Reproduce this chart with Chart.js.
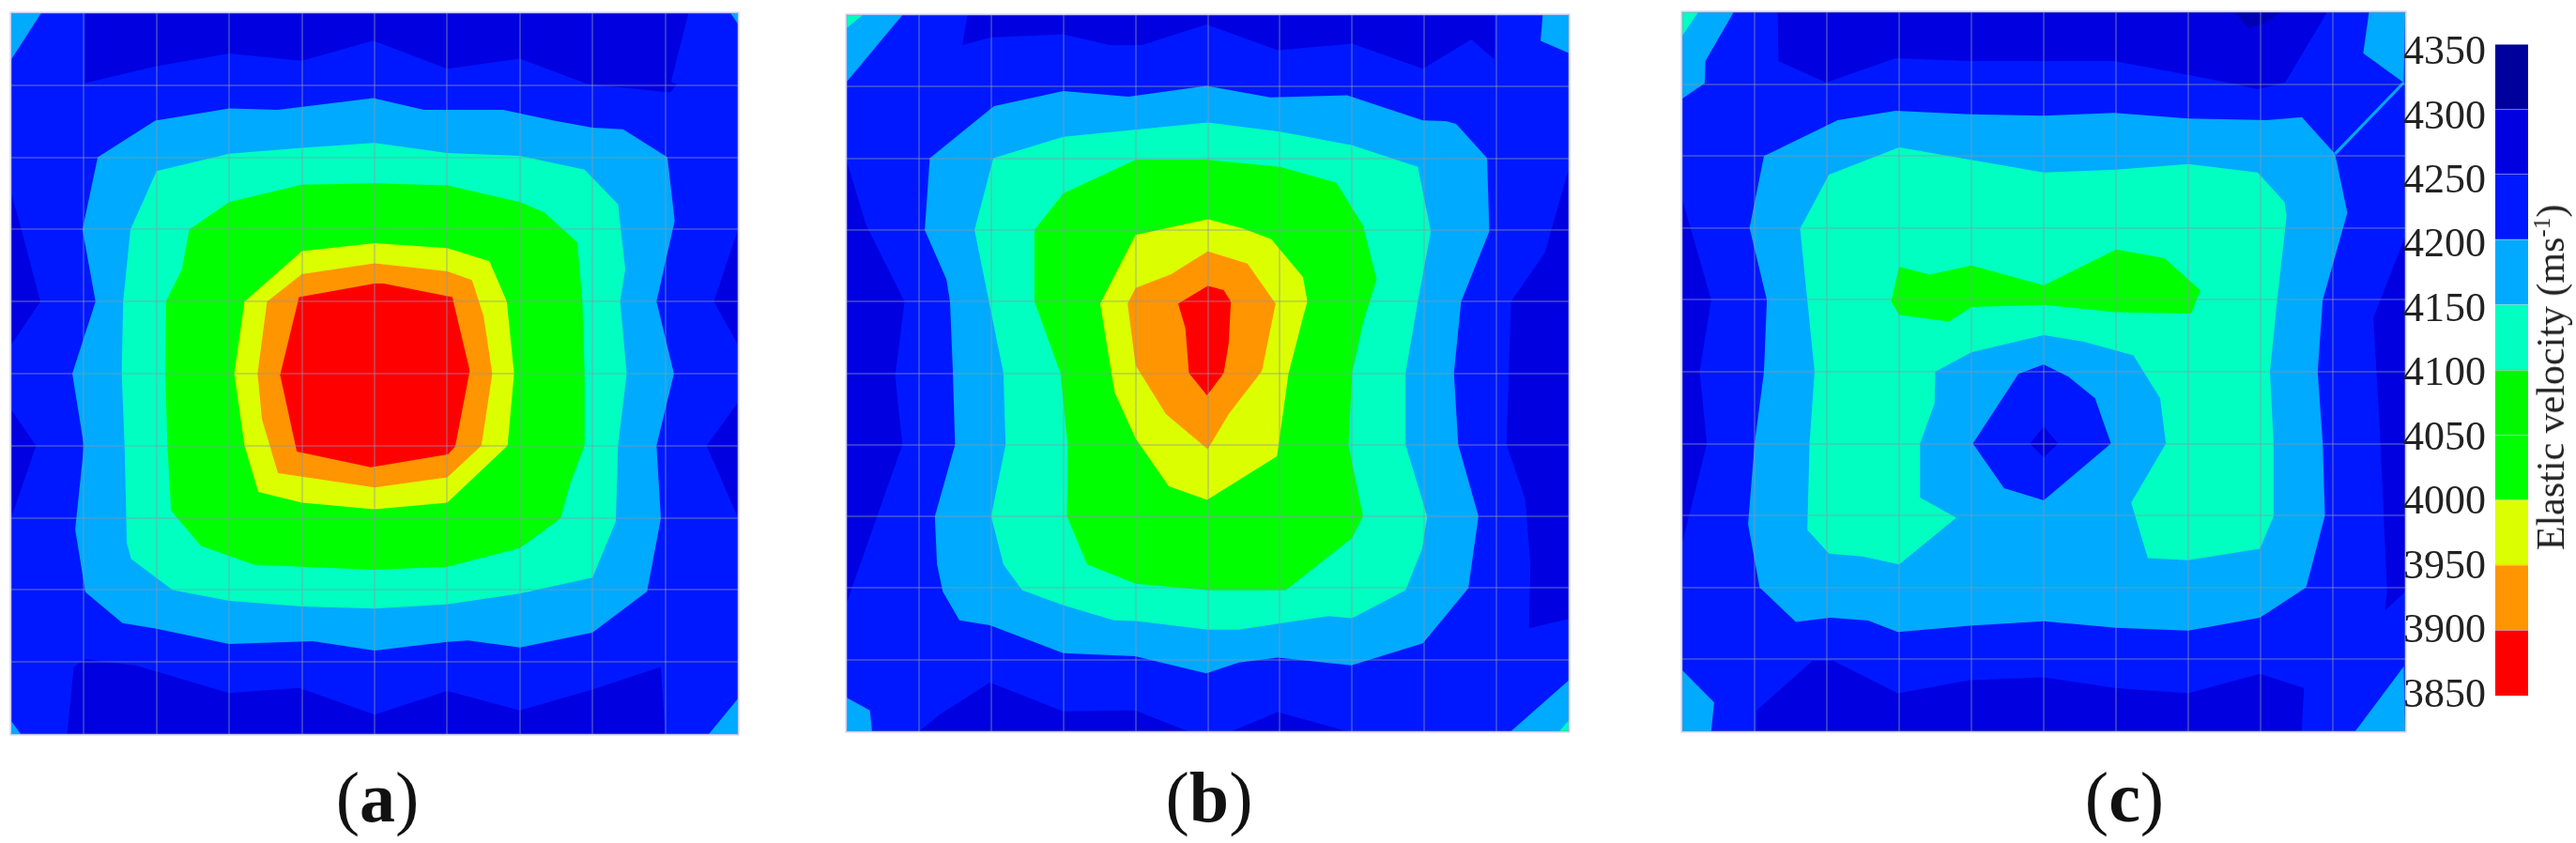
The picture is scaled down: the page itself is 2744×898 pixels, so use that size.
<!DOCTYPE html>
<html>
<head>
<meta charset="utf-8">
<title>Elastic velocity maps</title>
<script src="https://cdn.jsdelivr.net/npm/chart.js@4/dist/chart.umd.min.js"></script>
<style>
    body { margin: 0; background: #fff; width: 2744px; height: 898px; overflow: hidden; position: relative; font-family: "Liberation Serif", serif; color: #111; }
    canvas { position: absolute; filter: blur(0.7px); }
    .map { box-shadow: 0 0 0 1.5px rgba(190, 190, 240, 0.8); }
    .cap { position: absolute; top: 801px; font-size: 76px; line-height: 96px; transform: translateX(-50%); }
    #barTitle { position: absolute; left: 2717px; top: 402px; font-size: 42px; color: #222; white-space: nowrap; transform: translate(-50%, -50%) rotate(-90deg); }
    #barTitle sup { font-size: 25px; line-height: 0; }
</style>
</head>
<body>
<canvas class="map" id="panelA" width="774" height="768" style="left:12px;top:14px"></canvas>
<canvas class="map" id="panelB" width="769" height="763" style="left:902px;top:16px"></canvas>
<canvas class="map" id="panelC" width="770" height="766" style="left:1792px;top:13px"></canvas>
<canvas id="colorBar" width="135" height="734" style="left:2560px;top:27px"></canvas>
<div class="cap" style="left:402px">(<b>a</b>)</div>
<div class="cap" style="left:1288px">(<b>b</b>)</div>
<div class="cap" style="left:2263px">(<b>c</b>)</div>
<div id="barTitle">Elastic velocity (ms<sup>-1</sup>)</div>

<script>
// Colour bar: band edges, labels and one colour per band (low to high).
const bandEdges = [3850, 3900, 3950, 4000, 4050, 4100, 4150, 4200, 4250, 4300, 4350];
const tickValues = [3850, 3900, 3950, 4000, 4050, 4100, 4150, 4200, 4250, 4300, 4350];
const bandColors = ['#ff0000', '#ff9500', '#dcff00', '#00ff00', '#00f800', '#00ffc0', '#00aaff', '#0018ff', '#0000e0', '#00009c'];

const RED = bandColors[0], ORANGE = bandColors[1], YELLOW = bandColors[2], GREEN = bandColors[3];
const AQUA = bandColors[5], SKY = bandColors[6], BLUE = bandColors[7], DARK = bandColors[8], NAVY = '#0000b4';

// Contours in grid cells (0-10 across, 0-10 down).
const wholeGrid = [[0, 0], [10, 0], [10, 10], [0, 10]];

// Panel (a)
const aTopDark = [[1.02, 0], [1.02, 0.97], [1.98, 0.74], [3, 0.56], [4, 0.66], [4.98, 0.38], [6, 0.77], [7, 0.63], [7.92, 0.98], [9.07, 1.1], [9.16, 0.99], [9.08, 0.95], [9.32, 0]];
const aBottomDark = [[0.77, 10], [0.86, 9.07], [1.02, 8.96], [1.72, 9.05], [3, 9.43], [3.96, 9.36], [5, 9.73], [6, 9.4], [7, 9.67], [8, 9.38], [8.94, 9.07], [9, 10]];
const aLeftDark1 = [[0, 2.5], [0.14, 3], [0.4, 4], [0, 4.6]];
const aLeftDark2 = [[0, 5.5], [0.34, 6], [0, 7]];
const aRightDark1 = [[10, 3], [9.67, 4], [10, 4.6]];
const aRightDark2 = [[10, 5.4], [9.57, 6], [10, 7]];
const aSkyCorners = [
    [[0, 0], [0.41, 0], [0, 0.64]],
    [[0, 9.82], [0.13, 10], [0, 10]],
    [[9.6, 10], [10, 9.51], [10, 10]],
    [[9.9, 0], [10, 0.15], [10, 0]]
];
const aSky = [[4.98, 1.18], [3.67, 1.34], [3, 1.32], [1.98, 1.49], [1.19, 2], [0.98, 3], [1.16, 4], [0.84, 5], [1, 6], [0.88, 7.16], [1.02, 8.03], [1.53, 8.46], [2, 8.54], [3, 8.75], [4.15, 8.71], [5, 8.84], [6, 8.72], [6.29, 8.7], [7, 8.8], [8, 8.59], [8.75, 8.02], [8.94, 7.01], [8.88, 6], [9.12, 5], [8.88, 4], [9.13, 2.88], [9.03, 2], [8.42, 1.61], [8, 1.59], [7.47, 1.49], [6.77, 1.34], [5.68, 1.34]];
const aAqua = [[5, 1.8], [4, 1.87], [3, 1.95], [2, 2.19], [1.64, 3], [1.54, 4], [1.52, 5], [1.56, 6], [1.59, 7.35], [1.65, 7.57], [2.22, 8], [3, 8.15], [4, 8.23], [5, 8.26], [6, 8.2], [7, 8.05], [8, 7.83], [8.32, 7.05], [8.35, 6], [8.47, 5], [8.38, 4], [8.45, 3.55], [8.35, 2.65], [7.89, 2.17], [7, 1.98], [6, 1.94]];
const aGreen = [[5, 2.36], [4, 2.38], [3, 2.62], [2.45, 3], [2.35, 3.55], [2.13, 4], [2.12, 5], [2.15, 6], [2.2, 6.9], [2.61, 7.39], [3.34, 7.65], [5, 7.72], [6, 7.68], [7, 7.42], [7.56, 7.01], [7.69, 6.53], [7.89, 6], [7.89, 5], [7.86, 4], [7.79, 3.18], [7.33, 2.76], [7, 2.62], [6, 2.39]];
const aYellow = [[5, 3.19], [4, 3.3], [3.21, 4], [3.07, 5], [3.21, 6], [3.4, 6.64], [4, 6.79], [5, 6.88], [6, 6.79], [6.83, 6], [6.92, 5], [6.82, 4], [6.58, 3.44], [6, 3.26]];
const aOrange = [[5, 3.47], [4, 3.62], [3.52, 4], [3.39, 5], [3.45, 5.63], [3.67, 6.38], [5, 6.58], [6, 6.44], [6.47, 6], [6.62, 5], [6.5, 4.2], [6.34, 3.7], [6, 3.58]];
const aRed = [[5.12, 3.75], [5, 3.75], [3.96, 3.94], [3.7, 5.02], [3.93, 6.08], [4.95, 6.3], [6.01, 6.12], [6.11, 6.01], [6.31, 4.96], [6.07, 3.94]];

// Panel (b)
const bTopDark = [[1.67, 0], [1.6, 0.42], [2, 0.31], [3, 0.27], [3.64, 0.42], [4.09, 0.42], [4.98, 0.13], [5.97, 0.49], [7, 0.4], [7.98, 0.75], [8.65, 0.34], [8.97, 0.62], [8.97, 0]];
const bBottomDark1 = [[1, 10], [1.28, 9.77], [1.98, 9.32], [3, 9.72], [3.99, 9.71], [4.73, 10]];
const bBottomDark2 = [[5.33, 10], [5.97, 9.73], [6.93, 10]];
const bLeftDark = [[0, 2.04], [0.27, 2.94], [0.8, 4], [0.67, 5.05], [0.77, 6], [0.5, 6.77], [0, 8.2]];
const bRightDark = [[10, 2.15], [9.67, 3.32], [9.2, 4], [9.17, 5], [9.14, 6], [9.4, 6.77], [9.47, 7.67], [9.45, 8.56], [10, 8.43]];
const bSkyCorners = [
    [[0, 0], [0.77, 0], [0, 0.93]],
    [[9.64, 0], [10, 0], [10, 0.53], [9.61, 0.36]],
    [[0, 9.53], [0.32, 9.71], [0.35, 10], [0, 10]],
    [[9.2, 10], [10, 9.29], [10, 10]]
];
const bAquaCorners = [
    [[0, 0], [0.22, 0], [0, 0.18]],
    [[9.87, 10], [10, 9.85], [10, 10]]
];
const bSky = [[4.98, 0.99], [3.9, 1.14], [3, 1.06], [2.04, 1.27], [1.15, 2], [1.08, 3], [1.38, 3.69], [1.43, 4], [1.47, 5], [1.5, 6], [1.22, 7], [1.25, 7.67], [1.33, 8.05], [1.56, 8.45], [1.98, 8.52], [3, 8.91], [3.99, 8.95], [4.98, 9.19], [5.43, 9.04], [5.97, 8.97], [6.99, 9.08], [7.98, 8.77], [8.61, 8], [8.75, 7], [8.47, 6], [8.41, 5], [8.51, 4], [8.9, 3.02], [8.87, 2], [8.44, 1.52], [8.3, 1.48], [7.98, 1.47], [6.93, 1.12], [5.87, 1.15]];
const bAqua = [[5, 1.5], [3, 1.7], [2.03, 2], [1.77, 3], [1.97, 4], [2.17, 5], [2.2, 6], [2, 7], [2.17, 7.67], [2.43, 8.03], [3, 8.24], [3.7, 8.45], [4, 8.46], [5, 8.58], [5.43, 8.58], [6.67, 8.39], [7, 8.42], [7.74, 8.03], [7.97, 7.45], [8.04, 7], [7.74, 6], [7.74, 5], [7.91, 4], [8.09, 3.02], [7.91, 2.12], [7, 1.82], [6, 1.63]];
const bGreen = [[5, 2.02], [4, 2.02], [3, 2.49], [2.6, 3], [2.6, 4], [2.96, 5], [3.06, 6], [3.05, 7], [3.33, 7.67], [4, 7.94], [5, 8.03], [6.08, 8.03], [7, 7.3], [7.15, 7], [6.95, 6], [7, 5], [7.15, 4.3], [7.34, 3.69], [7.15, 2.94], [6.78, 2.34], [6, 2.12]];
const bYellow = [[5, 2.85], [4, 3.07], [3.51, 4.03], [3.71, 5.27], [4, 5.91], [4.46, 6.58], [4.99, 6.77], [5.96, 6.16], [6.12, 5], [6.32, 4.22], [6.38, 4], [6.32, 3.66], [5.88, 3.13], [5.48, 2.98]];
const bOrange = [[5, 3.3], [4.49, 3.62], [4, 3.81], [3.89, 4.03], [4, 4.89], [4.42, 5.57], [5, 6.06], [5.29, 5.57], [5.75, 4.97], [5.94, 4.03], [5.55, 3.47]];
const bRed = [[5, 3.78], [4.59, 4.03], [4.69, 4.37], [4.74, 5], [4.99, 5.31], [5.22, 5], [5.29, 4.59], [5.32, 4], [5.22, 3.84]];

// Panel (c)
const cTopDark = [[1.32, 0], [1.33, 0.68], [1.99, 0.98], [2.95, 0.64], [3.98, 0.68], [5.97, 0.68], [7, 0.87], [7.64, 1], [7.96, 1.07], [8.34, 0.98], [8.92, 0]];
const cTopSmudge = [[7.64, 0], [7.83, 0.22], [8.02, 0.17], [8.28, 0]];
const cBottomDark = [[1.03, 10], [1.03, 9.71], [1.8, 9.02], [2.09, 9.02], [2.98, 9.47], [3.98, 9.29], [5, 9.25], [6, 9.4], [7, 9.47], [7.99, 9.2], [8.6, 9.4], [8.57, 10]];
const cLeftDark = [[0, 2.6], [0.4, 4], [0.24, 5], [0.34, 6], [0, 7.38]];
const cRightDark = [[10, 3.12], [9.56, 4.25], [9.65, 5.81], [9.75, 8.06], [9.72, 8.32], [10, 8.06]];
const cSkyCorners = [
    [[0, 0], [0.71, 0], [0.32, 0.68], [0.31, 0.99], [0, 1.2]],
    [[9.5, 0], [9.42, 0.57], [9.98, 0.98], [10, 0]],
    [[0, 9.15], [0.44, 9.6], [0.4, 10], [0, 10]],
    [[9.31, 10], [9.98, 9.1], [10, 10]]
];
const cAquaCorner = [[0, 0], [0.22, 0], [0, 0.33]];
const cSky = [[5, 1.44], [3.98, 1.42], [2.95, 1.37], [2.15, 1.5], [1.13, 2], [0.93, 3], [1.17, 4], [1.13, 5], [1, 6], [0.91, 7.12], [1.07, 8], [1.57, 8.48], [2.05, 8.42], [2.57, 8.46], [2.98, 8.62], [3.98, 8.53], [5, 8.47], [6, 8.56], [7, 8.6], [7.99, 8.42], [8.63, 8], [8.89, 7], [8.86, 6], [8.79, 5], [8.86, 4], [9.2, 2.79], [9.03, 1.97], [8.57, 1.46], [8.09, 1.5], [7, 1.48], [5.97, 1.4]];
const cSkyStreak = [[9.03, 1.97], [9.98, 0.98]];
const cAqua = [[5, 2.23], [3, 1.88], [2.03, 2.26], [1.63, 3.01], [1.83, 5], [1.76, 6], [1.73, 7.2], [2.03, 7.53], [2.49, 7.57], [3, 7.68], [3.79, 7.03], [3.29, 6.75], [3.29, 6], [3.49, 5.44], [3.5, 5], [4, 4.73], [5, 4.49], [5.54, 4.58], [6.24, 4.77], [6.61, 5.37], [6.69, 6], [6.21, 6.82], [6.44, 7.59], [7, 7.62], [7.99, 7.46], [8.18, 7.01], [8.18, 6], [8.13, 5], [8.23, 4], [8.36, 2.83], [8.33, 2.64], [7.96, 2.23], [7, 2.11], [6, 2.19]];
const cGreen = [[2.89, 4.02], [3, 3.54], [3.42, 3.65], [4, 3.52], [5, 3.8], [6, 3.3], [6.67, 3.42], [7.17, 3.87], [7.04, 4.19], [6, 4.17], [5, 4.07], [4, 4.1], [3.69, 4.3], [3, 4.21]];
const cHole = [[5, 4.9], [4.65, 5.03], [4.02, 6], [4.45, 6.62], [5, 6.79], [5.93, 6], [5.71, 5.37], [5.34, 5.07]];
const cHoleCore = [[5, 5.76], [4.81, 6], [5, 6.19], [5.2, 6]];

function area(points, color) {
    return {
        data: points.concat([points[0]]),
        showLine: true,
        fill: 'shape',
        backgroundColor: color,
        borderWidth: 0,
        pointRadius: 0,
        tension: 0
    };
}

function streak(points, color) {
    return { data: points, showLine: true, fill: false, borderColor: color, borderWidth: 3, pointRadius: 0 };
}

// Layers are listed bottom to top, `order` makes the later ones paint last.
function drawPanel(id, layers) {
    layers.forEach(function (d, i) { d.order = layers.length - i; });
    new Chart(document.getElementById(id), {
        type: 'scatter',
        data: { datasets: layers },
        options: {
            responsive: false,
            animation: false,
            plugins: { legend: { display: false }, tooltip: { enabled: false } },
            scales: {
                x: {
                    min: 0, max: 10,
                    ticks: { display: false, stepSize: 1 },
                    border: { display: false },
                    grid: { z: 1, drawTicks: false, color: 'rgba(140, 150, 170, 0.38)', lineWidth: 2 }
                },
                y: {
                    min: 0, max: 10, reverse: true,
                    ticks: { display: false, stepSize: 1 },
                    border: { display: false },
                    grid: { z: 1, drawTicks: false, color: 'rgba(140, 150, 170, 0.38)', lineWidth: 2 }
                }
            }
        }
    });
}

function mapLayers(corners, darks, rest) {
    return [area(wholeGrid, BLUE)]
        .concat(darks.map(function (p) { return area(p, DARK); }))
        .concat(corners.map(function (p) { return area(p, SKY); }))
        .concat(rest);
}

drawPanel('panelA', mapLayers(aSkyCorners, [aTopDark, aBottomDark, aLeftDark1, aLeftDark2, aRightDark1, aRightDark2], [
    area(aSky, SKY), area(aAqua, AQUA), area(aGreen, GREEN), area(aYellow, YELLOW), area(aOrange, ORANGE), area(aRed, RED)
]));

drawPanel('panelB', mapLayers(bSkyCorners, [bTopDark, bBottomDark1, bBottomDark2, bLeftDark, bRightDark], [
    area(bAquaCorners[0], AQUA), area(bAquaCorners[1], AQUA),
    area(bSky, SKY), area(bAqua, AQUA), area(bGreen, GREEN), area(bYellow, YELLOW), area(bOrange, ORANGE), area(bRed, RED)
]));

drawPanel('panelC', mapLayers(cSkyCorners, [cTopDark, cBottomDark, cLeftDark, cRightDark], [
    area(cTopSmudge, NAVY), area(cAquaCorner, AQUA), streak(cSkyStreak, SKY), area(cSky, SKY), area(cAqua, AQUA), area(cGreen, GREEN), area(cHole, BLUE), area(cHoleCore, DARK)
]));

// Colour bar, floating bars on a hidden band axis, labels on their own axis.
new Chart(document.getElementById('colorBar'), {
    type: 'bar',
    data: {
        labels: ['Elastic velocity'],
        datasets: bandColors.map(function (c, i) {
            return { data: [[bandEdges[i], bandEdges[i + 1]]], backgroundColor: c, yAxisID: 'band', barPercentage: 1, categoryPercentage: 1 };
        })
    },
    options: {
        responsive: false,
        animation: false,
        layout: { padding: { top: 20, bottom: 20, right: 2 } },
        plugins: { legend: { display: false }, tooltip: { enabled: false } },
        scales: {
            x: { display: false, stacked: true },
            band: {
                position: 'right',
                min: 3850, max: 4350,
                afterFit: function (scale) { scale.paddingTop = 0; scale.paddingBottom = 0; },
                ticks: { display: false, stepSize: 50 },
                border: { display: false },
                grid: { z: 1, drawTicks: false, color: 'rgba(205, 205, 255, 0.55)', lineWidth: 1 }
            },
            y: {
                position: 'left',
                min: 3850, max: 4357,
                afterBuildTicks: function (scale) {
                    scale.ticks = tickValues.map(function (v) { return { value: v }; });
                },
                afterFit: function (scale) { scale.width = 98; scale.paddingTop = 0; scale.paddingBottom = 0; },
                ticks: {
                    autoSkip: false,
                    padding: 2,
                    color: '#222',
                    font: { family: '"Liberation Serif"', size: 44 },
                    callback: function (v) { return String(v); }
                },
                border: { display: false },
                grid: { display: false }
            }
        }
    }
});
</script>
</body>
</html>
